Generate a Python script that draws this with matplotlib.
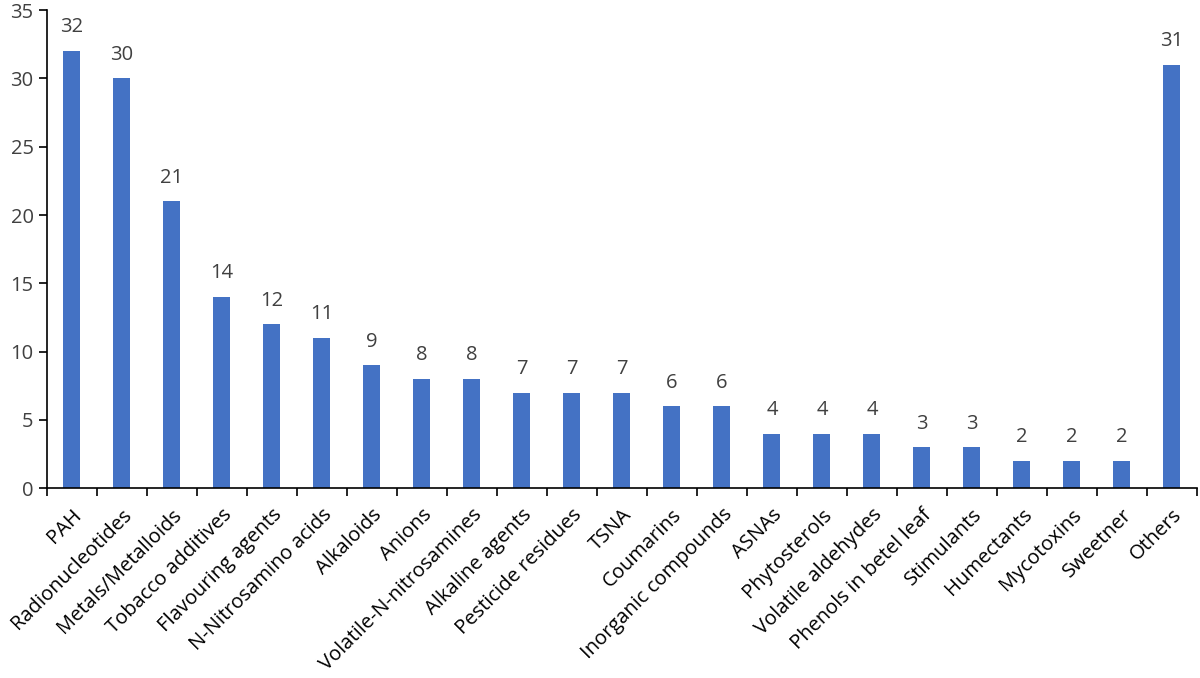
import matplotlib.pyplot as plt
import numpy as np

categories = ['PAH', 'Radionucleotides', 'Metals/Metalloids', 'Tobacco additives',
              'Flavouring agents', 'N-Nitrosamino acids', 'Alkaloids', 'Anions',
              'Volatile-N-nitrosamines', 'Alkaline agents', 'Pesticide residues', 'TSNA',
              'Coumarins', 'Inorganic compounds', 'ASNAs', 'Phytosterols',
              'Volatile aldehydes', 'Phenols in betel leaf', 'Stimulants', 'Humectants',
              'Mycotoxins', 'Sweetner', 'Others']
counts = [32, 30, 21, 14, 12, 11, 9, 8, 8, 7, 7, 7, 6, 6, 4, 4, 4, 3, 3, 2, 2, 2, 31]
y_ticks = [0, 5, 10, 15, 20, 25, 30, 35]

plt.rcParams['font.family'] = ['Open Sans', 'DejaVu Sans']

fig = plt.figure(figsize=(12, 6.78), dpi=100)
ax = fig.add_axes([0.039, 0.28, 0.9585, 0.705])

x = np.arange(len(categories))
bars = ax.bar(x, counts, width=0.34, color='#4472C4')

# value labels above each bar
for xi, v in zip(x, counts):
    ax.text(xi, v + 1.0, str(v), ha='center', va='bottom', fontsize=14.5, color='#404040')

ax.set_xlim(-0.5, len(categories) - 0.5)
ax.set_ylim(0, 35)
ax.set_yticks(y_ticks)
ax.tick_params(axis='y', labelsize=14.5, labelcolor='#404040', length=6, width=1.2)

ax.set_xticks(x)
ax.set_xticklabels(categories, rotation=45, ha='right', rotation_mode='anchor', fontsize=14.5)
ax.set_xticks(np.arange(-0.5, len(categories), 1), minor=True)
ax.tick_params(axis='x', which='major', length=0, pad=12)
ax.tick_params(axis='x', which='minor', length=6, width=1.2)

for side in ['top', 'right']:
    ax.spines[side].set_visible(False)
for side in ['left', 'bottom']:
    ax.spines[side].set_linewidth(1.2)

fig.savefig('out.png')
